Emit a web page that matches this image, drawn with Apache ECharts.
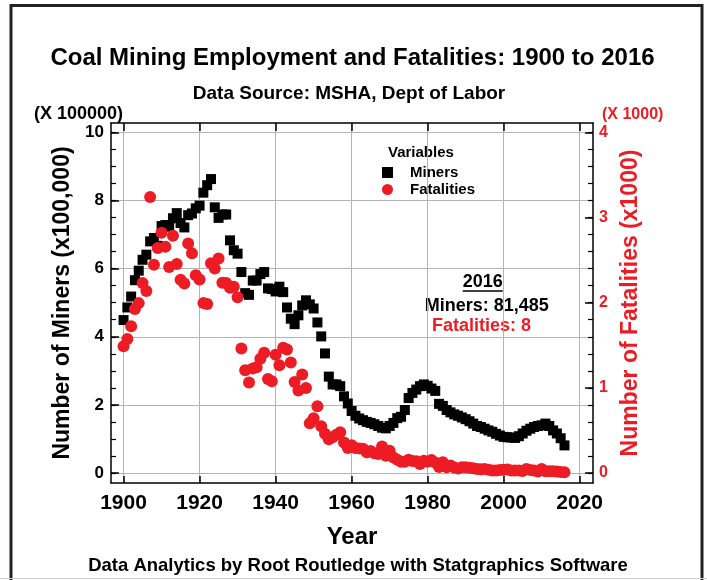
<!DOCTYPE html>
<html>
<head>
<meta charset="utf-8">
<script src="https://cdn.jsdelivr.net/npm/echarts@6/dist/echarts.min.js"></script>
<style>
  html, body { margin: 0; padding: 0; background: #fff; }
  #chart { width: 707px; height: 580px; }
</style>
</head>
<body>
<div id="chart"></div>
<script>
var FONT = '"Liberation Sans", Arial, sans-serif';
var RED = '#ed1c24';

// year of each point
var years = [
  1900,1901,1902,1903,1904,1905,1906,1907,1908,1909,
  1910,1911,1912,1913,1914,1915,1916,1917,1918,1919,
  1920,1921,1922,1923,1924,1925,1926,1927,1928,1929,
  1930,1931,1932,1933,1934,1935,1936,1937,1938,1939,
  1940,1941,1942,1943,1944,1945,1946,1947,1948,1949,
  1950,1951,1952,1953,1954,1955,1956,1957,1958,1959,
  1960,1961,1962,1963,1964,1965,1966,1967,1968,1969,
  1970,1971,1972,1973,1974,1975,1976,1977,1978,1979,
  1980,1981,1982,1983,1984,1985,1986,1987,1988,1989,
  1990,1991,1992,1993,1994,1995,1996,1997,1998,1999,
  2000,2001,2002,2003,2004,2005,2006,2007,2008,2009,
  2010,2011,2012,2013,2014,2015,2016
];

// miners, x100000
var miners = [
  4.49,4.86,5.18,5.66,5.94,6.26,6.41,6.80,6.90,6.67,
  7.25,7.28,7.23,7.48,7.63,7.34,7.21,7.57,7.62,7.77,
  7.85,8.23,8.45,8.63,7.80,7.49,7.59,7.59,6.83,6.54,
  6.44,5.90,5.28,5.23,5.65,5.65,5.84,5.90,5.42,5.40,
  5.33,5.47,5.31,4.86,4.53,4.37,4.63,4.92,5.07,4.95,
  4.83,4.42,4.01,3.51,2.83,2.60,2.60,2.55,2.25,2.04,
  1.82,1.68,1.60,1.55,1.50,1.47,1.43,1.38,1.33,1.31,
  1.38,1.47,1.61,1.65,1.85,2.20,2.35,2.45,2.55,2.60,
  2.56,2.48,2.41,2.03,1.97,1.85,1.78,1.72,1.68,1.63,
  1.58,1.52,1.45,1.38,1.35,1.30,1.25,1.21,1.15,1.10,
  1.06,1.05,1.04,1.03,1.08,1.16,1.24,1.30,1.35,1.38,
  1.40,1.45,1.38,1.25,1.16,1.02,0.81
];

// fatalities, x1000
var fatalities = [
  1.489,1.574,1.724,1.926,1.995,2.232,2.138,3.242,2.445,2.642,
  2.821,2.656,2.419,2.785,2.454,2.269,2.226,2.696,2.580,2.323,
  2.272,1.995,1.984,2.462,2.402,2.518,2.234,2.231,2.176,2.187,
  2.063,1.463,1.207,1.064,1.226,1.242,1.342,1.413,1.105,1.078,
  1.388,1.266,1.471,1.451,1.298,1.068,0.968,1.158,0.999,0.585,
  0.643,0.785,0.548,0.461,0.396,0.420,0.448,0.478,0.358,0.293,
  0.325,0.294,0.289,0.284,0.242,0.259,0.233,0.222,0.311,0.203,
  0.260,0.181,0.156,0.132,0.133,0.155,0.141,0.139,0.106,0.144,
  0.133,0.153,0.122,0.070,0.125,0.068,0.089,0.063,0.053,0.068,
  0.066,0.061,0.055,0.047,0.045,0.047,0.039,0.030,0.029,0.035,
  0.038,0.042,0.028,0.030,0.028,0.023,0.047,0.034,0.030,0.018,
  0.048,0.021,0.020,0.020,0.016,0.012,0.008
];

var yearTicks = [1900, 1920, 1940, 1960, 1980, 2000, 2020];
var minerTicks = [0, 2, 4, 6, 8, 10];
var minerMinorTicks = [0,0.5,1,1.5,2,2.5,3,3.5,4,4.5,5,5.5,6,6.5,7,7.5,8,8.5,9,9.5,10];
var fatalTicks = [0, 1, 2, 3, 4];
var fatalMinorTicks = [0,0.2,0.4,0.6,0.8,1,1.2,1.4,1.6,1.8,2,2.2,2.4,2.6,2.8,3,3.2,3.4,3.6,3.8,4];

var minerPts = [], fatalPts = [];
for (var i = 0; i < years.length; i++) {
  minerPts.push([years[i], miners[i]]);
  fatalPts.push([years[i], fatalities[i]]);
}

var xMin = 1896.7, xMax = 2023.5;
var yMin = -0.294, yMax = 10.276;
var fMin = yMin / 2.5, fMax = yMax / 2.5;

var axLine = { show: true, onZero: false, lineStyle: { color: '#000', width: 1.5 } };
var noLine = { show: false, onZero: false };
var boldTxt = function (size, color) {
  return { fontFamily: FONT, fontWeight: 'bold', fontSize: size, color: color || '#000' };
};
var plain = function (v) { return String(v); };

var chart = echarts.init(document.getElementById('chart'));
chart.setOption({
  animation: false,
  backgroundColor: '#fff',
  grid: { left: 111, top: 123, width: 482, height: 360 },
  legend: {
    left: 377, top: 160, orient: 'vertical',
    itemWidth: 11, itemHeight: 11, itemGap: 2,
    selectedMode: false,
    data: [{ name: 'Miners', icon: 'rect' }, { name: 'Fatalities', icon: 'circle' }],
    textStyle: { fontFamily: FONT, fontWeight: 'bold', fontSize: 15, color: '#000', padding: [0, 0, 0, 12], lineHeight: 13 }
  },
  xAxis: [{
    type: 'value', position: 'bottom', min: xMin, max: xMax,
    axisLine: axLine,
    axisTick: { inside: true, length: 7, customValues: yearTicks, lineStyle: { color: '#000', width: 1.5 } },
    axisLabel: Object.assign({ customValues: yearTicks, margin: 10, formatter: plain }, boldTxt(21)),
    splitLine: { show: true, lineStyle: { color: '#b4b4b4', width: 1 } },
    name: 'Year', nameLocation: 'middle', nameGap: 42,
    nameTextStyle: boldTxt(24)
  }, {
    type: 'value', position: 'top', min: xMin, max: xMax,
    axisLine: axLine,
    axisTick: { inside: true, length: 8, customValues: yearTicks, lineStyle: { color: '#000', width: 1.5 } },
    axisLabel: { show: false },
    splitLine: { show: false }
  }],
  yAxis: [{
    type: 'value', position: 'left', min: yMin, max: yMax,
    axisLine: axLine,
    axisTick: { inside: true, length: 8, customValues: minerTicks, lineStyle: { color: '#000', width: 1.5 } },
    axisLabel: Object.assign({ customValues: minerTicks, margin: 7, formatter: plain }, boldTxt(17)),
    splitLine: { show: true, lineStyle: { color: '#b4b4b4', width: 1 } },
    name: 'Number of Miners (x100,000)', nameLocation: 'middle', nameGap: 37,
    nameTextStyle: boldTxt(23)
  }, {
    type: 'value', position: 'right', min: fMin, max: fMax,
    axisLine: axLine,
    axisTick: { inside: true, length: 8, customValues: fatalTicks, lineStyle: { color: '#000', width: 1.5 } },
    axisLabel: Object.assign({ customValues: fatalTicks, margin: 6, formatter: plain }, boldTxt(16, RED)),
    splitLine: { show: false },
    name: 'Number of Fatalities (x1000)', nameLocation: 'middle', nameGap: 23,
    nameTextStyle: boldTxt(23, RED)
  }, {
    type: 'value', position: 'left', min: yMin, max: yMax,
    axisLine: noLine,
    axisTick: { inside: true, length: 5, customValues: minerMinorTicks, lineStyle: { color: '#000', width: 1.2 } },
    axisLabel: { show: false }, splitLine: { show: false }
  }, {
    type: 'value', position: 'right', min: fMin, max: fMax,
    axisLine: noLine,
    axisTick: { inside: true, length: 5, customValues: fatalMinorTicks, lineStyle: { color: '#000', width: 1.2 } },
    axisLabel: { show: false }, splitLine: { show: false }
  }],
  series: [{
    name: 'Miners', type: 'scatter', xAxisIndex: 0, yAxisIndex: 0,
    symbol: 'rect', symbolSize: 10,
    itemStyle: { color: '#000', opacity: 1 },
    data: minerPts
  }, {
    name: 'Fatalities', type: 'scatter', xAxisIndex: 0, yAxisIndex: 1,
    symbol: 'circle', symbolSize: 12,
    itemStyle: { color: RED, opacity: 1 },
    data: fatalPts
  }],
  graphic: [
    { type: 'rect', silent: true, shape: { x: 11, y: 5.5, width: 691, height: 620 },
      style: { fill: 'none', stroke: '#222', lineWidth: 3 } },
    { type: 'line', silent: true, shape: { x1: 0, y1: 578.5, x2: 707, y2: 578.5 },
      style: { stroke: '#d0d0d0', lineWidth: 1 } },
    { type: 'text', x: 352.5, y: 58.5, style: { text: 'Coal Mining Employment and Fatalities: 1900 to 2016', align: 'center', verticalAlign: 'middle', font: 'bold 24px ' + FONT, fill: '#000' } },
    { type: 'text', x: 349, y: 93.5, style: { text: 'Data Source: MSHA, Dept of Labor', align: 'center', verticalAlign: 'middle', font: 'bold 19px ' + FONT, fill: '#000' } },
    { type: 'text', x: 34, y: 114, style: { text: '(X 100000)', align: 'left', verticalAlign: 'middle', font: 'bold 18px ' + FONT, fill: '#000' } },
    { type: 'text', x: 602, y: 115, style: { text: '(X 1000)', align: 'left', verticalAlign: 'middle', font: 'bold 16px ' + FONT, fill: RED } },
    { type: 'text', x: 388, y: 152.5, style: { text: 'Variables', align: 'left', verticalAlign: 'middle', font: 'bold 15px ' + FONT, fill: '#000' } },
    { type: 'text', x: 482.7, y: 282, style: { text: '2016', align: 'center', verticalAlign: 'middle', font: 'bold 18px ' + FONT, fill: '#000' } },
    { type: 'line', silent: true, shape: { x1: 462.7, y1: 291, x2: 502.7, y2: 291 }, style: { stroke: '#000', lineWidth: 1.5 } },
    { type: 'text', x: 486.7, y: 306, style: { text: 'Miners: 81,485', align: 'center', verticalAlign: 'middle', font: 'bold 18px ' + FONT, fill: '#000' } },
    { type: 'text', x: 481.5, y: 326, style: { text: 'Fatalities: 8', align: 'center', verticalAlign: 'middle', font: 'bold 18px ' + FONT, fill: RED } },
    { type: 'text', x: 358, y: 566, style: { text: 'Data Analytics by Root Routledge with Statgraphics Software', align: 'center', verticalAlign: 'middle', font: 'bold 18.5px ' + FONT, fill: '#000' } }
  ]
});
</script>
</body>
</html>
